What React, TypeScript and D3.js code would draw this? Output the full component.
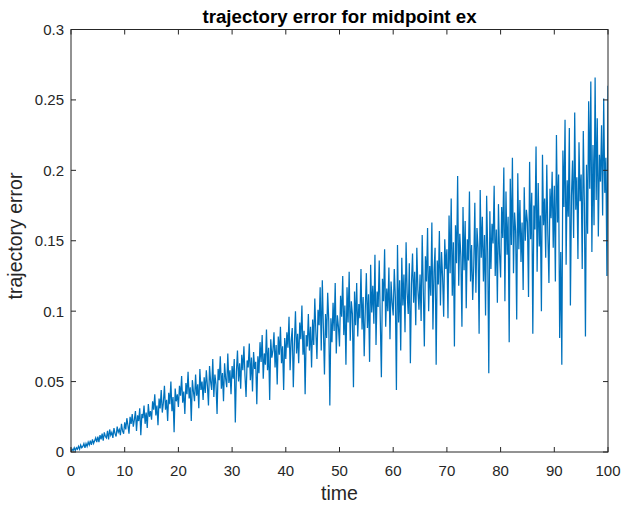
import React from "react";
import * as d3 from "d3";

const TITLE = "trajectory error for midpoint ex";
const X_LABEL = "time";
const Y_LABEL = "trajectory error";
const STEP = 0.2;
const X_TICKS = [0, 10, 20, 30, 40, 50, 60, 70, 80, 90, 100];
const Y_TICKS = [0, 0.05, 0.1, 0.15, 0.2, 0.25, 0.3];
const Y_TICK_LABELS = ["0", "0.05", "0.1", "0.15", "0.2", "0.25", "0.3"];

const ERR_0_25 = [
  0, 0.002, 0.001, 0.003, 0.001, 0.003, 0.002, 0.004, 0.002, 0.005, 0.003, 0.004, 0.006, 0.003, 0.006, 0.004, 0.007, 0.005, 0.008, 0.005, 0.009, 0.006, 0.008, 0.010, 0.007,
  0.011, 0.007, 0.012, 0.009, 0.013, 0.008, 0.014, 0.011, 0.010, 0.015, 0.009, 0.016, 0.012, 0.014, 0.010, 0.017, 0.013, 0.011, 0.018, 0.014, 0.016, 0.012, 0.020, 0.015, 0.013,
  0.021, 0.016, 0.024, 0.019, 0.013, 0.025, 0.020, 0.027, 0.018, 0.023, 0.029, 0.015, 0.026, 0.022, 0.031, 0.012, 0.027, 0.024, 0.033, 0.020, 0.028, 0.017, 0.034, 0.025, 0.029,
  0.023, 0.036, 0.030, 0.041, 0.026, 0.033, 0.019, 0.038, 0.031, 0.044, 0.028, 0.035, 0.047, 0.030, 0.037, 0.022, 0.042, 0.034, 0.050, 0.029, 0.039, 0.014, 0.045, 0.036, 0.041,
  0.032, 0.047, 0.040, 0.054, 0.035, 0.043, 0.027, 0.049, 0.041, 0.057, 0.038, 0.046, 0.022, 0.051, 0.043, 0.036, 0.055, 0.040, 0.048, 0.031, 0.059, 0.044, 0.050, 0.037, 0.053,
];
const ERR_25_50 = [
  0.042, 0.058, 0.047, 0.033, 0.061, 0.050, 0.044, 0.066, 0.039, 0.055, 0.048, 0.027, 0.059, 0.051, 0.068, 0.045, 0.056, 0.036, 0.063, 0.052, 0.046, 0.070, 0.049, 0.058, 0.041,
  0.061, 0.052, 0.066, 0.021, 0.057, 0.072, 0.050, 0.063, 0.045, 0.069, 0.058, 0.075, 0.054, 0.039, 0.065, 0.060, 0.077, 0.051, 0.067, 0.043, 0.071, 0.059, 0.064, 0.034, 0.068,
  0.056, 0.078, 0.064, 0.083, 0.052, 0.070, 0.062, 0.087, 0.058, 0.074, 0.037, 0.080, 0.067, 0.072, 0.085, 0.060, 0.076, 0.048, 0.082, 0.069, 0.089, 0.063, 0.075, 0.044, 0.081,
  0.066, 0.085, 0.074, 0.096, 0.058, 0.079, 0.088, 0.046, 0.077, 0.100, 0.070, 0.084, 0.063, 0.092, 0.080, 0.104, 0.069, 0.086, 0.041, 0.083, 0.075, 0.098, 0.072, 0.089, 0.060,
  0.094, 0.076, 0.109, 0.085, 0.066, 0.101, 0.090, 0.117, 0.072, 0.122, 0.088, 0.055, 0.098, 0.081, 0.113, 0.093, 0.033, 0.095, 0.078, 0.106, 0.086, 0.120, 0.070, 0.097, 0.089,
];
const ERR_50_75 = [
  0.075, 0.111, 0.096, 0.125, 0.083, 0.104, 0.062, 0.117, 0.092, 0.128, 0.079, 0.107, 0.098, 0.046, 0.114, 0.090, 0.120, 0.082, 0.105, 0.095, 0.130, 0.087, 0.110, 0.068, 0.101,
  0.127, 0.088, 0.112, 0.064, 0.133, 0.099, 0.118, 0.091, 0.140, 0.076, 0.114, 0.103, 0.136, 0.093, 0.053, 0.123, 0.107, 0.144, 0.089, 0.116, 0.100, 0.131, 0.080, 0.121, 0.106,
  0.097, 0.130, 0.110, 0.044, 0.147, 0.092, 0.122, 0.072, 0.138, 0.104, 0.126, 0.085, 0.149, 0.113, 0.098, 0.134, 0.063, 0.119, 0.141, 0.106, 0.128, 0.090, 0.145, 0.115, 0.101,
  0.126, 0.093, 0.154, 0.116, 0.075, 0.139, 0.121, 0.159, 0.100, 0.132, 0.111, 0.163, 0.087, 0.128, 0.145, 0.062, 0.136, 0.119, 0.157, 0.104, 0.142, 0.124, 0.096, 0.151, 0.130,
  0.144, 0.095, 0.168, 0.127, 0.180, 0.111, 0.149, 0.075, 0.161, 0.134, 0.196, 0.118, 0.155, 0.139, 0.089, 0.174, 0.129, 0.164, 0.102, 0.151, 0.136, 0.185, 0.121, 0.147, 0.108,
];
const ERR_75_100 = [
  0.132, 0.177, 0.113, 0.159, 0.145, 0.084, 0.186, 0.138, 0.167, 0.121, 0.154, 0.097, 0.182, 0.142, 0.056, 0.171, 0.130, 0.162, 0.148, 0.189, 0.125, 0.158, 0.106, 0.176, 0.141,
  0.124, 0.174, 0.152, 0.202, 0.107, 0.185, 0.140, 0.167, 0.078, 0.194, 0.147, 0.209, 0.127, 0.170, 0.157, 0.094, 0.198, 0.144, 0.179, 0.135, 0.163, 0.115, 0.188, 0.150, 0.172,
  0.163, 0.110, 0.206, 0.151, 0.184, 0.084, 0.175, 0.158, 0.217, 0.128, 0.191, 0.146, 0.168, 0.100, 0.211, 0.161, 0.180, 0.138, 0.204, 0.154, 0.120, 0.187, 0.166, 0.199, 0.145,
  0.189, 0.121, 0.225, 0.163, 0.197, 0.081, 0.142, 0.062, 0.214, 0.174, 0.236, 0.133, 0.193, 0.167, 0.230, 0.104, 0.182, 0.207, 0.152, 0.241, 0.172, 0.195, 0.137, 0.220, 0.178,
  0.197, 0.130, 0.228, 0.176, 0.082, 0.204, 0.155, 0.249, 0.187, 0.263, 0.142, 0.218, 0.161, 0.266, 0.179, 0.237, 0.153, 0.211, 0.192, 0.232, 0.168, 0.251, 0.184, 0.209, 0.125,
  0.260,
];

const ERRORS = [...ERR_0_25, ...ERR_25_50, ...ERR_50_75, ...ERR_75_100];

const W = 635;
const H = 506;
const M = { left: 71, right: 608, top: 29.5, bottom: 452 };
const AXIS = "#262626";
const FONT = "'Liberation Sans', Arial, Helvetica, sans-serif";

export default function App() {
  const x = d3.scaleLinear().domain([0, 100]).range([M.left, M.right]);
  const y = d3.scaleLinear().domain([0, 0.3]).range([M.bottom, M.top]);
  const line = d3
    .line<number>()
    .x((_, i) => x(i * STEP))
    .y((d) => y(d));
  const tl = 5;
  return (
    <svg
      width={W}
      height={H}
      style={{ position: "absolute", left: 0, top: 0, background: "#fff" }}
      fontFamily={FONT}
    >
      <rect x={0} y={0} width={W} height={H} fill="#fff" />
      <defs>
        <clipPath id="plotclip">
          <rect x={M.left} y={M.top} width={M.right - M.left} height={M.bottom - M.top} />
        </clipPath>
      </defs>
      <path
        d={line(ERRORS) || ""}
        fill="none"
        stroke="#0072BD"
        strokeWidth={1.25}
        strokeLinejoin="miter"
        clipPath="url(#plotclip)"
      />
      <rect
        x={M.left}
        y={M.top}
        width={M.right - M.left}
        height={M.bottom - M.top}
        fill="none"
        stroke={AXIS}
        strokeWidth={1}
      />
      {X_TICKS.map((t) => (
        <g key={"x" + t}>
          <line x1={x(t)} x2={x(t)} y1={M.bottom} y2={M.bottom - tl} stroke={AXIS} />
          <line x1={x(t)} x2={x(t)} y1={M.top} y2={M.top + tl} stroke={AXIS} />
          <text x={x(t)} y={475.5} textAnchor="middle" fontSize={15} fill={AXIS}>
            {t}
          </text>
        </g>
      ))}
      {Y_TICKS.map((t, i) => (
        <g key={"y" + t}>
          <line x1={M.left} x2={M.left + tl} y1={y(t)} y2={y(t)} stroke={AXIS} />
          <line x1={M.right} x2={M.right - tl} y1={y(t)} y2={y(t)} stroke={AXIS} />
          <text x={64} y={y(t)} dy="0.36em" textAnchor="end" fontSize={15} fill={AXIS}>
            {Y_TICK_LABELS[i]}
          </text>
        </g>
      ))}
      <text x={(M.left + M.right) / 2} y={500} textAnchor="middle" fontSize={19.5} fill={AXIS}>
        {X_LABEL}
      </text>
      <text
        transform={`translate(22, 236) rotate(-90)`}
        textAnchor="middle"
        fontSize={19.5}
        fill={AXIS}
      >
        {Y_LABEL}
      </text>
      <text
        x={(M.left + M.right) / 2}
        y={23}
        textAnchor="middle"
        fontSize={18.7}
        fontWeight="bold"
        fill="#000"
      >
        {TITLE}
      </text>
    </svg>
  );
}
